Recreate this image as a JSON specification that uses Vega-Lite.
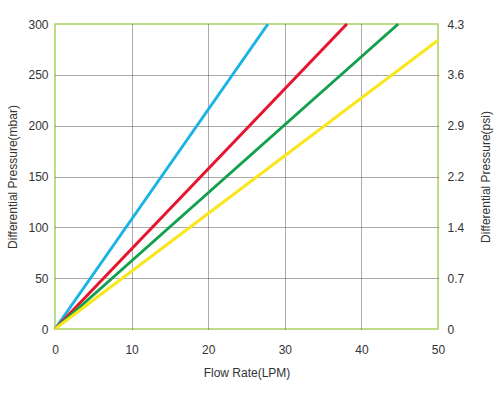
{
  "$schema": "https://vega.github.io/schema/vega-lite/v6.json",
  "autosize": {"type": "none"},
  "padding": {"left": 55, "top": 24, "right": 62, "bottom": 71},
  "width": 383,
  "height": 305,
  "background": "white",
  "config": {
    "view": {"stroke": "#a9d15f", "strokeWidth": 1.5},
    "axis": {
      "labelFont": "Liberation Sans",
      "titleFont": "Liberation Sans",
      "labelFontSize": 12,
      "titleFontSize": 12,
      "labelColor": "#333333",
      "titleColor": "#333333",
      "titleFontWeight": "normal",
      "labelFlush": false,
      "domain": false,
      "ticks": false,
      "gridColor": "#555555",
      "gridDash": [1, 1],
      "gridWidth": 1
    }
  },
  "data": {
    "values": [
      {"series": "cyan", "flow": 0, "mbar": 0},
      {"series": "cyan", "flow": 27.8, "mbar": 300},
      {"series": "red", "flow": 0, "mbar": 0},
      {"series": "red", "flow": 38.1, "mbar": 300},
      {"series": "green", "flow": 0, "mbar": 0},
      {"series": "green", "flow": 44.8, "mbar": 300},
      {"series": "yellow", "flow": 0, "mbar": 0},
      {"series": "yellow", "flow": 50, "mbar": 284}
    ]
  },
  "layer": [
    {
      "mark": {"type": "line", "strokeWidth": 3},
      "encoding": {
        "x": {
          "field": "flow",
          "type": "quantitative",
          "scale": {"domain": [0, 50], "nice": false},
          "axis": {
            "title": "Flow Rate(LPM)",
            "values": [0, 10, 20, 30, 40, 50],
            "labelPadding": 15,
            "titlePadding": 12,
            "gridOpacity": {"condition": {"test": "datum.value == 0 || datum.value == 50", "value": 0}, "value": 1}
          }
        },
        "y": {
          "field": "mbar",
          "type": "quantitative",
          "scale": {"domain": [0, 300], "nice": false},
          "axis": {
            "title": "Differential Pressure(mbar)",
            "values": [0, 50, 100, 150, 200, 250, 300],
            "labelPadding": 7,
            "titlePadding": 8,
            "gridOpacity": {"condition": {"test": "datum.value == 0 || datum.value == 300", "value": 0}, "value": 1}
          }
        },
        "color": {
          "field": "series",
          "type": "nominal",
          "scale": {
            "domain": ["cyan", "red", "green", "yellow"],
            "range": ["#1ab3e6", "#e8132d", "#12a04c", "#f8e71c"]
          },
          "legend": null
        }
      }
    },
    {
      "mark": {"type": "line", "opacity": 0},
      "encoding": {
        "x": {"field": "flow", "type": "quantitative", "scale": {"domain": [0, 50], "nice": false}},
        "y": {
          "field": "mbar",
          "type": "quantitative",
          "scale": {"domain": [0, 300], "nice": false},
          "axis": {
            "orient": "right",
            "title": "Differential Pressure(psi)",
            "titleAngle": 270,
            "values": [0, 50, 100, 150, 200, 250, 300],
            "labelExpr": "['0','0.7','1.4','2.2','2.9','3.6','4.3'][round(datum.value / 50)]",
            "grid": false,
            "labelPadding": 9,
            "titlePadding": 29
          }
        },
        "detail": {"field": "series"}
      }
    }
  ],
  "resolve": {"scale": {"y": "independent"}}
}
